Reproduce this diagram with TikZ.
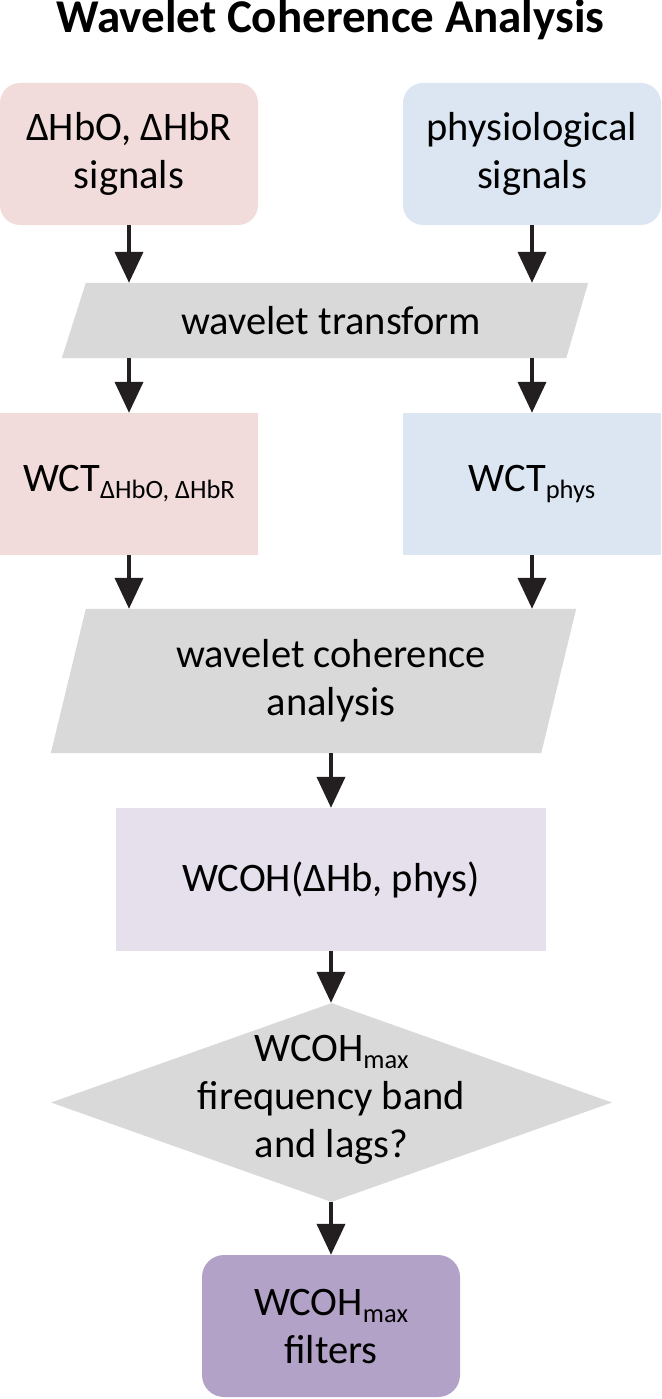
\documentclass[tikz,border=0pt]{standalone}
\usepackage{fontspec}
\setmainfont{Carlito}
\usetikzlibrary{shapes.geometric,arrows.meta,backgrounds}
\definecolor{pinkc}{HTML}{F2DCDB}
\definecolor{bluec}{HTML}{DCE6F2}
\definecolor{grayc}{HTML}{D9D9D9}
\definecolor{lavc}{HTML}{E5E0EC}
\definecolor{purpc}{HTML}{B3A2C7}
\definecolor{arrc}{HTML}{231F20}
\newcommand{\sbs}[1]{{\fontsize{26.5}{26.5}\selectfont\raisebox{-7pt}{#1}}}
\begin{document}
\begin{tikzpicture}[x=1pt,y=-1pt,
  txt/.style={font=\fontsize{40.5}{48}\selectfont, align=center, text=black},
  rbox/.style={txt, rounded corners=20pt, minimum width=258pt, minimum height=142pt, inner sep=0pt},
  sbox/.style={txt, minimum width=258pt, minimum height=142pt, inner sep=0pt},
  arr/.style={draw=arrc, line width=4pt, -{Triangle[width=28pt,length=31pt]}},
]
\useasboundingbox (0,0) rectangle (661,1399);
\node[font=\bfseries\fontsize{47}{47}\selectfont] (title) at (330.5,20) {Wavelet Coherence Analysis};

\node[rbox, fill=pinkc] (b1) at (129,154) {ΔHbO, ΔHbR\\signals};
\node[rbox, fill=bluec] (b2) at (532,154) {physiological\\signals};

\node[minimum width=526pt, minimum height=75pt, inner sep=0pt] (wt) at (325,320.5) {};
\begin{pgfonlayer}{background}
\fill[grayc] ([xshift=24pt]wt.north west) -- (wt.north east) -- ([xshift=-22pt]wt.south east) -- (wt.south west) -- cycle;
\end{pgfonlayer}
\node[txt] (wtt) at (331,320.5) {wavelet transform};

\node[sbox, fill=pinkc] (w1) at (129,484) {WCT\sbs{ΔHbO, ΔHbR}};
\node[sbox, fill=bluec] (w2) at (532,484) {WCT\sbs{phys}};

\node[minimum width=525pt, minimum height=144pt, inner sep=0pt] (wca) at (313.5,681) {};
\begin{pgfonlayer}{background}
\fill[grayc] ([xshift=35pt]wca.north west) -- (wca.north east) -- ([xshift=-35pt]wca.south east) -- (wca.south west) -- cycle;
\end{pgfonlayer}
\node[txt] (wcat) at (331,681) {wavelet coherence\\analysis};

\node[sbox, fill=lavc, minimum width=430pt, minimum height=143pt] (wcoh) at (331,879.5) {WCOH(ΔHb, phys)};

\node[diamond, fill=grayc, minimum width=561pt, minimum height=199pt, inner sep=0pt] (dm) at (331.5,1102.5) {};
\node[txt] (dmt) at (331.5,1100) {WCOH\sbs{max}\\firequency band\\and lags?};

\node[rbox, fill=purpc, rounded corners=22pt] (fin) at (331,1326) {WCOH\sbs{max}\\filters};

\draw[arr] (b1.south) -- (b1.south |- wt.north);
\draw[arr] (b2.south) -- (b2.south |- wt.north);
\draw[arr] (w1.north |- wt.south) -- (w1.north);
\draw[arr] (w2.north |- wt.south) -- (w2.north);
\draw[arr] (w1.south) -- (w1.south |- wca.north);
\draw[arr] (w2.south) -- (w2.south |- wca.north);
\draw[arr] (wcoh.north |- wca.south) -- (wcoh.north);
\draw[arr] (wcoh.south) -- (dm.north -| wcoh.south);
\draw[arr] (dm.south -| fin.north) -- (fin.north);
\end{tikzpicture}
\end{document}
